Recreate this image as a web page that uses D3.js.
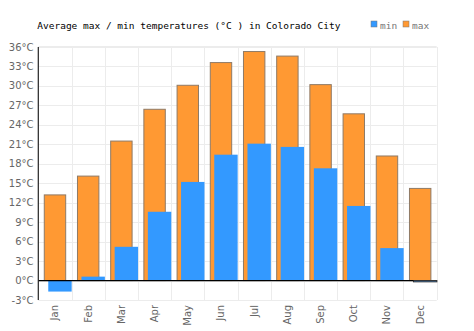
<!DOCTYPE html>
<html>
<head>
<meta charset="utf-8">
<script src="https://cdn.jsdelivr.net/npm/d3@7"></script>
<style>
  html, body { margin: 0; padding: 0; background: #fff; }
  svg { display: block; }
</style>
</head>
<body>
<div id="chart"></div>
<script>
// Monthly average temperatures, Colorado City (°C)
const months = ["Jan","Feb","Mar","Apr","May","Jun","Jul","Aug","Sep","Oct","Nov","Dec"];
const maxTemps = [13.2, 16.1, 21.5, 26.4, 30.1, 33.6, 35.3, 34.6, 30.2, 25.7, 19.2, 14.2];
const minTemps = [-1.7, 0.6, 5.2, 10.6, 15.2, 19.4, 21.1, 20.6, 17.3, 11.5, 5.0, -0.2];
const yTicks = [-3, 0, 3, 6, 9, 12, 15, 18, 21, 24, 27, 30, 33, 36];
const titleText = "Average max / min temperatures (°C ) in Colorado City";
const legendItems = [
  { key: "min", color: "#3399ff" },
  { key: "max", color: "#ff9933" }
];

const W = 474, H = 331;
const plotLeft = 38.3, plotRight = 436.7, plotTop = 47, plotBottom = 300;

const svg = d3.select("#chart").append("svg")
  .attr("width", W).attr("height", H);

const x = d3.scaleBand().domain(months).range([plotLeft, plotRight]).padding(0);
const y = d3.scaleLinear().domain([-3, 36]).range([plotBottom, plotTop]);
const bw = x.bandwidth();

// grid
const grid = svg.append("g").attr("stroke", "#ececec").attr("stroke-width", 1);
grid.selectAll("line.h").data(yTicks).join("line")
  .attr("x1", plotLeft).attr("x2", plotRight)
  .attr("y1", d => Math.round(y(d)) + 0.5).attr("y2", d => Math.round(y(d)) + 0.5);
grid.selectAll("line.v").data(months.map((m, i) => i + 1)).join("line")
  .attr("x1", i => Math.round(plotLeft + i * bw) + 0.5).attr("x2", i => Math.round(plotLeft + i * bw) + 0.5)
  .attr("y1", plotTop).attr("y2", plotBottom);
grid.append("line")
  .attr("x1", plotLeft).attr("x2", plotRight)
  .attr("y1", plotTop - 0.5).attr("y2", plotTop - 0.5);

// max bars
svg.append("g").selectAll("rect").data(months).join("rect")
  .attr("x", (m) => x(m) + bw * 0.18)
  .attr("width", bw * 0.645)
  .attr("y", (m, i) => y(Math.max(0, maxTemps[i])))
  .attr("height", (m, i) => Math.abs(y(maxTemps[i]) - y(0)))
  .attr("fill", "#ff9933")
  .attr("stroke", "#8f7a66")
  .attr("stroke-width", 1);

// min bars
svg.append("g").selectAll("rect").data(months).join("rect")
  .attr("x", (m) => x(m) + bw * 0.30)
  .attr("width", bw * 0.705)
  .attr("y", (m, i) => y(Math.max(0, minTemps[i])))
  .attr("height", (m, i) => Math.max(1, Math.abs(y(minTemps[i]) - y(0))))
  .attr("fill", "#3399ff")
  .attr("stroke", (m, i) => Math.abs(minTemps[i]) < 0.5 ? "#333" : "none")
  .attr("stroke-width", 1);

// zero line
svg.append("line")
  .attr("x1", plotLeft).attr("x2", x("Dec") + bw * 0.30)
  .attr("y1", y(0)).attr("y2", y(0))
  .attr("stroke", "#000").attr("stroke-width", 1.2);

// left axis line
svg.append("line")
  .attr("x1", plotLeft).attr("x2", plotLeft)
  .attr("y1", plotTop).attr("y2", plotBottom)
  .attr("stroke", "#222").attr("stroke-width", 1.2);

// y labels
svg.append("g").selectAll("text").data(yTicks).join("text")
  .attr("x", 33.5)
  .attr("y", d => y(d) + 3.5)
  .attr("text-anchor", "end")
  .attr("font-family", "DejaVu Sans, Verdana, sans-serif")
  .attr("font-size", 10)
  .attr("fill", "#666")
  .text(d => d + "°C");

// x labels (rotated)
svg.append("g").selectAll("text").data(months).join("text")
  .attr("transform", m => `translate(${x(m) + bw / 2 + 3.5},305) rotate(-90)`)
  .attr("text-anchor", "end")
  .attr("font-family", "DejaVu Sans, Verdana, sans-serif")
  .attr("font-size", 10)
  .attr("fill", "#666")
  .text(m => m);

// title
svg.append("text")
  .attr("x", 37.3).attr("y", 28.5)
  .attr("font-family", "DejaVu Sans Mono, monospace")
  .attr("font-size", 9.5)
  .attr("fill", "#000")
  .text(titleText);

// legend
const lg = svg.append("g").attr("font-family", "DejaVu Sans Mono, monospace").attr("font-size", 9.5);
const lx = [371, 403];
legendItems.forEach((d, i) => {
  lg.append("rect").attr("x", lx[i]).attr("y", 21).attr("width", 6).attr("height", 6)
    .attr("fill", d.color).attr("stroke", "#777").attr("stroke-width", 0.5);
  lg.append("text").attr("x", lx[i] + 9).attr("y", 28.5).attr("fill", "#777").text(d.key);
});
</script>
</body>
</html>
